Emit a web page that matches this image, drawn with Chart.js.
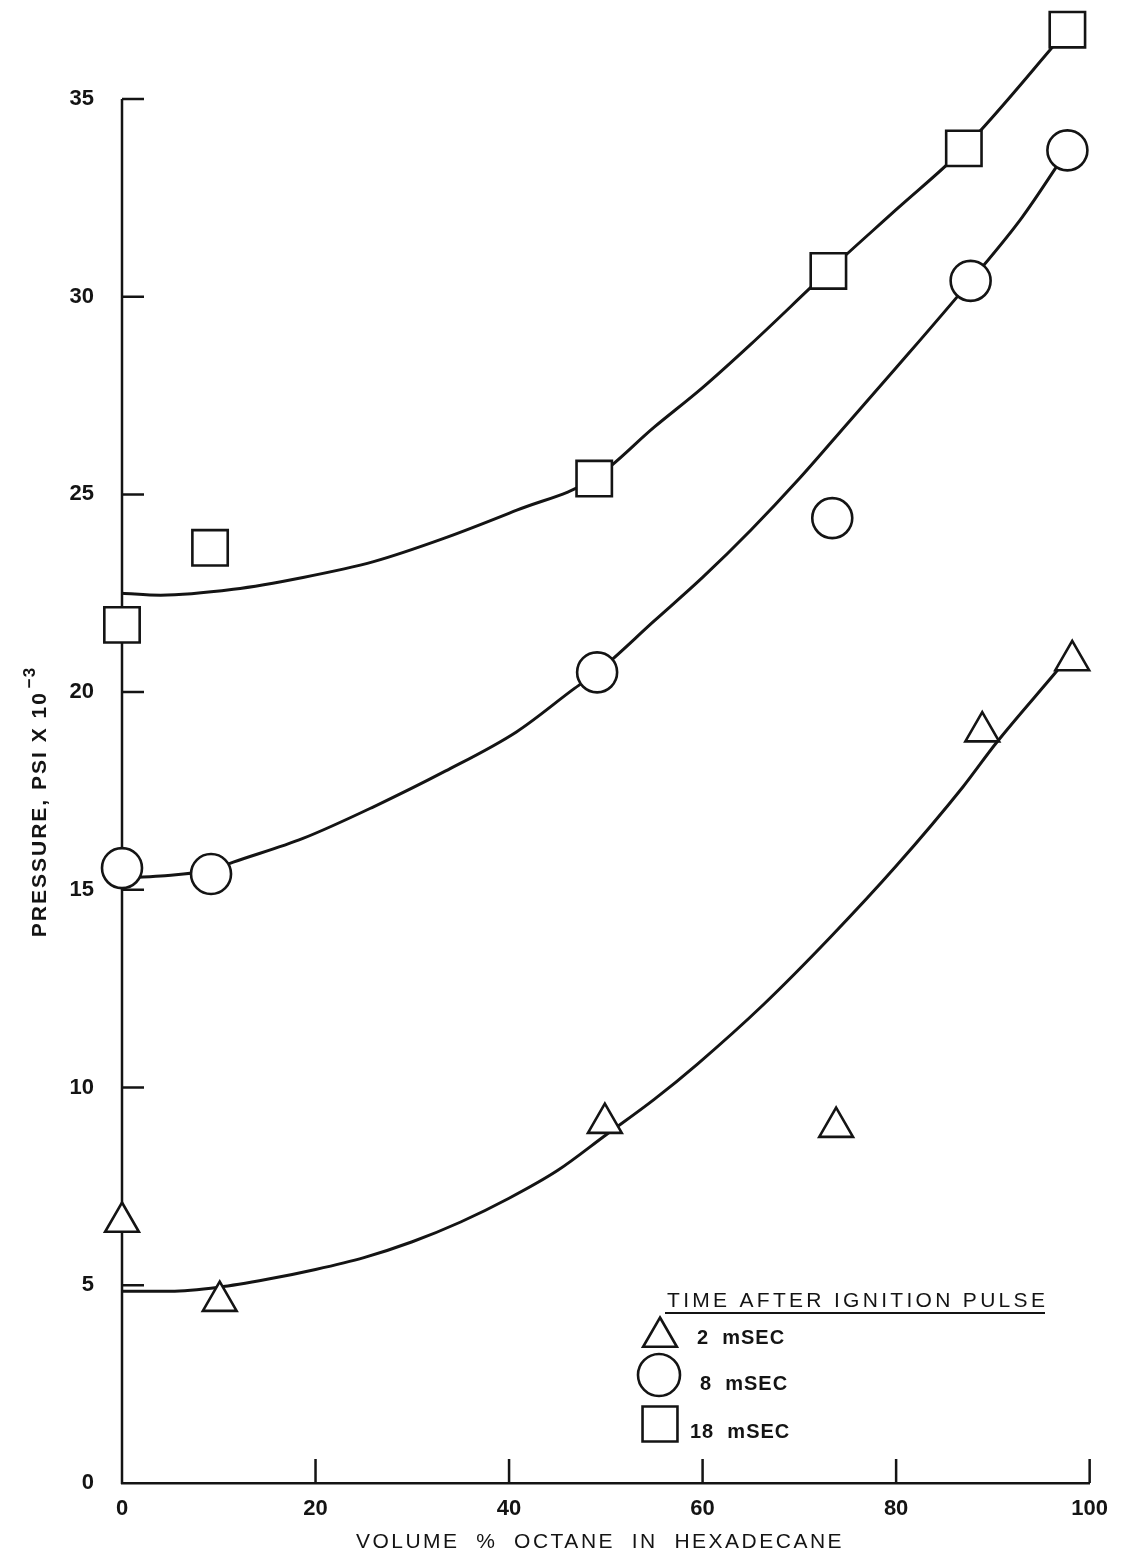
<!DOCTYPE html>
<html>
<head>
<meta charset="utf-8">
<script src="https://cdn.jsdelivr.net/npm/chart.js@4.4.1/dist/chart.umd.min.js"></script>
<style>
  html, body { margin: 0; padding: 0; background: #fff; }
</style>
</head>
<body>
<canvas id="pressureChart" width="1121" height="1563"></canvas>
<script>
const xTicks = [0, 20, 40, 60, 80, 100];
const yTicks = [0, 5, 10, 15, 20, 25, 30, 35];

// measured points: volume % octane vs pressure (psi x 10^-3)
const octane2ms = [0, 10.1, 49.9, 73.8, 88.9, 98.2];
const pressure2ms = [6.6, 4.6, 9.1, 9.0, 19.0, 20.8];
const octane8ms = [0, 9.2, 49.1, 73.4, 87.7, 97.7];
const pressure8ms = [15.55, 15.4, 20.5, 24.4, 30.4, 33.7];
const octane18ms = [0, 9.1, 48.8, 73.0, 87.0, 97.7];
const pressure18ms = [21.7, 23.65, 25.4, 30.65, 33.75, 36.75];

// faired curves through each set
const curve2msX = [0, 5, 10, 15, 20, 25, 30, 35, 40, 45, 50, 55, 59.5, 66.3, 73.2, 80, 86.9, 90.3, 96.5, 98.2];
const curve2msY = [4.85, 4.85, 4.95, 5.15, 5.4, 5.7, 6.1, 6.6, 7.2, 7.9, 8.8, 9.7, 10.6, 12.1, 13.8, 15.6, 17.6, 18.7, 20.5, 21.0];
const curve8msX = [0, 4, 9.2, 11.5, 18.7, 26, 33.4, 40.8, 46.8, 49.1, 55, 60, 65, 70, 75, 80, 87.7, 93, 97.7];
const curve8msY = [15.3, 15.35, 15.5, 15.7, 16.3, 17.1, 18.0, 19.0, 20.1, 20.5, 21.8, 22.9, 24.1, 25.4, 26.8, 28.2, 30.4, 32.0, 33.7];
const curve18msX = [0, 4, 11.5, 18.7, 26, 33.4, 40.8, 48.8, 55, 60, 65, 73, 80, 87, 97.7];
const curve18msY = [22.5, 22.45, 22.6, 22.9, 23.3, 23.9, 24.6, 25.4, 26.7, 27.7, 28.8, 30.65, 32.2, 33.75, 36.75];

const legendTitle = 'TIME AFTER IGNITION PULSE';
const legendLabels = ['2  mSEC', '8  mSEC', '18  mSEC'];
const xTitle = 'VOLUME  %  OCTANE  IN  HEXADECANE';
const yTitle = 'PRESSURE, PSI X 10';
const yTitleExp = '\u22123';

const ink = '#141414';
const fontFamily = "'Liberation Sans', Arial, Helvetica, sans-serif";

const toPoints = (xs, ys) => xs.map((x, i) => ({ x: x, y: ys[i] }));

function markerSet(label, xs, ys, style, radius) {
  return {
    label: label,
    data: toPoints(xs, ys),
    showLine: false,
    pointStyle: style,
    pointRadius: radius,
    pointBackgroundColor: '#fff',
    pointBorderColor: ink,
    pointBorderWidth: 2.6,
    clip: false
  };
}

function curveSet(xs, ys) {
  return {
    data: toPoints(xs, ys),
    showLine: true,
    borderColor: ink,
    borderWidth: 3,
    pointRadius: 0,
    cubicInterpolationMode: 'monotone',
    clip: false
  };
}

// y axis stops at 35; tick marks point into the plot
const innerTicks = {
  id: 'innerTicks',
  beforeDatasetsDraw(chart) {
    const { ctx, scales: { x, y } } = chart;
    ctx.save();
    ctx.strokeStyle = ink;
    ctx.lineWidth = 2.5;
    ctx.beginPath();
    ctx.moveTo(x.left, y.getPixelForValue(0) + 1);
    ctx.lineTo(x.left, y.getPixelForValue(35));
    yTicks.forEach(v => {
      if (v === 0) return;
      const py = y.getPixelForValue(v);
      ctx.moveTo(x.left, py);
      ctx.lineTo(x.left + 22, py);
    });
    xTicks.forEach(v => {
      if (v === 0) return;
      const px = x.getPixelForValue(v);
      ctx.moveTo(px, y.bottom);
      ctx.lineTo(px, y.bottom - 24);
    });
    ctx.stroke();
    ctx.restore();
  }
};

const axisTitles = {
  id: 'axisTitles',
  afterDraw(chart) {
    const ctx = chart.ctx;
    ctx.save();
    ctx.fillStyle = ink;
    ctx.textBaseline = 'middle';

    ctx.font = '21px ' + fontFamily;
    ctx.letterSpacing = '2.5px';
    ctx.textAlign = 'center';
    ctx.fillText(xTitle, 600, 1542);

    ctx.translate(40, 802);
    ctx.rotate(-Math.PI / 2);
    ctx.textAlign = 'left';
    ctx.font = 'bold 21px ' + fontFamily;
    ctx.letterSpacing = '2px';
    const w1 = ctx.measureText(yTitle).width;
    ctx.font = 'bold 17px ' + fontFamily;
    ctx.letterSpacing = '1px';
    const w2 = ctx.measureText(yTitleExp).width;
    const start = -(w1 + 3 + w2) / 2;
    ctx.font = 'bold 21px ' + fontFamily;
    ctx.letterSpacing = '2px';
    ctx.fillText(yTitle, start, 0);
    ctx.font = 'bold 17px ' + fontFamily;
    ctx.letterSpacing = '1px';
    ctx.fillText(yTitleExp, start + w1 + 3, -10);
    ctx.restore();
  }
};

const keyBox = {
  id: 'keyBox',
  afterDatasetsDraw(chart) {
    const ctx = chart.ctx;
    ctx.save();
    ctx.fillStyle = ink;
    ctx.strokeStyle = ink;
    ctx.textBaseline = 'alphabetic';
    ctx.textAlign = 'left';
    ctx.font = '21px ' + fontFamily;
    ctx.letterSpacing = '3.3px';
    ctx.fillText(legendTitle, 667, 1307);
    ctx.lineWidth = 2;
    ctx.beginPath();
    ctx.moveTo(665, 1313);
    ctx.lineTo(1045, 1313);
    ctx.stroke();

    const rows = [
      { sx: 660, sy: 1337, r: 19.5, tx: 697, ty: 1338 },
      { sx: 659, sy: 1375, r: 21, tx: 700, ty: 1384 },
      { sx: 660, sy: 1424, r: 24.7, tx: 690, ty: 1432 }
    ];
    ctx.font = 'bold 20px ' + fontFamily;
    ctx.letterSpacing = '1px';
    ctx.textBaseline = 'middle';
    rows.forEach((row, i) => {
      const ds = chart.data.datasets[i];
      ctx.fillStyle = '#fff';
      ctx.lineWidth = 2.6;
      Chart.helpers.drawPoint(ctx, {
        pointStyle: ds.pointStyle, rotation: 0, radius: row.r, borderWidth: 2.6
      }, row.sx, row.sy);
      ctx.fillStyle = ink;
      ctx.fillText(legendLabels[i], row.tx, row.ty);
    });
    ctx.restore();
  }
};

new Chart(document.getElementById('pressureChart'), {
  type: 'scatter',
  data: {
    datasets: [
      markerSet('2 mSEC', octane2ms, pressure2ms, 'triangle', 19.5),
      markerSet('8 mSEC', octane8ms, pressure8ms, 'circle', 20),
      markerSet('18 mSEC', octane18ms, pressure18ms, 'rect', 25),
      curveSet(curve2msX, curve2msY),
      curveSet(curve8msX, curve8msY),
      curveSet(curve18msX, curve18msY)
    ]
  },
  options: {
    responsive: false,
    animation: false,
    events: [],
    // the y tick padding already reserves ~41px above the plot
    layout: { padding: { top: 41.2, right: 26, left: 0, bottom: 0 } },
    plugins: {
      legend: { display: false },
      tooltip: { enabled: false }
    },
    scales: {
      x: {
        type: 'linear',
        min: 0,
        max: 100,
        afterFit: s => { s.height = 80; },
        afterBuildTicks: s => { s.ticks = xTicks.map(v => ({ value: v })); },
        grid: { display: false, drawTicks: false },
        border: { display: true, color: ink, width: 2.5 },
        ticks: {
          padding: 13,
          color: ink,
          font: { family: fontFamily, size: 22, weight: 'bold' }
        }
      },
      y: {
        type: 'linear',
        min: 0,
        max: 36.46,
        afterFit: s => { s.width = 122; },
        afterBuildTicks: s => { s.ticks = yTicks.map(v => ({ value: v })); },
        grid: { display: false, drawTicks: false },
        border: { display: false },
        ticks: {
          padding: 28,
          color: ink,
          font: { family: fontFamily, size: 22, weight: 'bold' }
        }
      }
    }
  },
  plugins: [innerTicks, keyBox, axisTitles]
});
</script>
</body>
</html>
